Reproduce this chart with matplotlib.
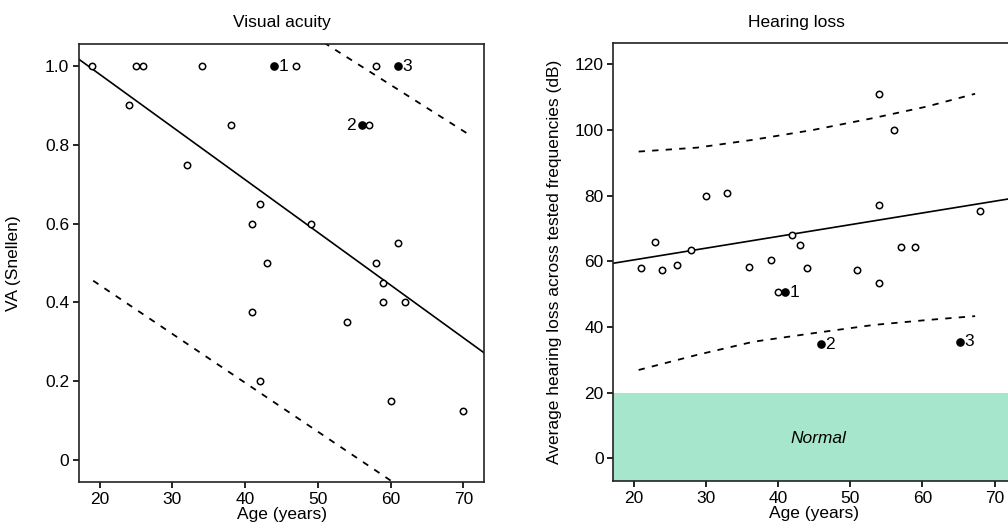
import matplotlib
matplotlib.use('Agg')
import matplotlib.pyplot as plt

plt.rcParams['font.family'] = ['Liberation Sans', 'DejaVu Sans']

# ===== Data: visual acuity =====
va_age = [19, 25, 26, 34, 47, 58, 24, 38, 57, 32, 42, 41, 49, 61, 43, 58,
          59, 59, 62, 41, 54, 42, 60, 70]
va_val = [1.0, 1.0, 1.0, 1.0, 1.0, 1.0, 0.9, 0.85, 0.85, 0.75, 0.65, 0.6, 0.6, 0.55, 0.5, 0.5,
          0.45, 0.4, 0.4, 0.375, 0.35, 0.2, 0.15, 0.125]
va_case_age = [44, 56, 61]
va_case_val = [1.0, 0.85, 1.0]
va_case_lab = ['1', '2', '3']
va_fit_age = [17.15, 72.85]
va_fit_val = [1.017, 0.272]
va_upper_age = [19, 70.7]
va_upper_val = [1.432, 0.827]
va_lower_age = [19.1, 70.7]
va_lower_val = [0.455, -0.185]

# ===== Data: hearing loss =====
hl_age = [54, 56, 30, 33, 54, 68, 23, 28, 42, 43, 57, 59, 39,
          21, 24, 26, 36, 44, 51, 54, 40]
hl_val = [111.0, 100.0, 80.0, 80.7, 77.2, 75.4, 66.0, 63.5, 67.9, 64.8, 64.2, 64.2, 60.5,
          57.9, 57.3, 58.8, 58.4, 57.9, 57.3, 53.3, 50.5]
hl_case_age = [41, 46, 65.2]
hl_case_val = [50.5, 34.8, 35.5]
hl_case_lab = ['1', '2', '3']
hl_fit_age = [17.2, 72.0]
hl_fit_val = [59.4, 79.0]
hl_band_age = [20.7, 28.8, 36.6, 44.9, 53.2, 60.6, 67.3]
hl_upper_val = [93.4, 94.6, 97.0, 100.0, 103.6, 107.1, 111.0]
hl_lower_val = [26.9, 31.5, 35.5, 38.1, 40.6, 42.1, 43.3]

fig = plt.figure(figsize=(10.08, 5.30), dpi=100)
ax1 = fig.add_axes([0.0784, 0.0906, 0.4018, 0.8264])
ax2 = fig.add_axes([0.6085, 0.0925, 0.399, 0.826])

fs = 12.5
open_kw = dict(marker='o', linestyle='none', markersize=4.6, markerfacecolor='white',
               markeredgecolor='black', markeredgewidth=1.1, zorder=4)
fill_kw = dict(marker='o', linestyle='none', markersize=5.2, color='black', zorder=4)


def style(ax):
    for s in ax.spines.values():
        s.set_linewidth(1.2)
        s.set_color('#222222')
    ax.tick_params(direction='out', length=4, width=1.2, labelsize=fs, pad=3,
                   top=False, right=False)


# ===== Panel 1: Visual acuity =====
ax1.plot(va_fit_age, va_fit_val, color='black', lw=1.2, zorder=2)
ax1.plot(va_upper_age, va_upper_val, color='black', lw=1.3, dashes=(3.5, 4), zorder=2)
ax1.plot(va_lower_age, va_lower_val, color='black', lw=1.3, dashes=(3.5, 4), zorder=2)
ax1.plot(va_age, va_val, **open_kw)
ax1.plot(va_case_age, va_case_val, **fill_kw)
for a, v, t in zip(va_case_age, va_case_val, va_case_lab):
    if t == '2':
        ax1.annotate(t, (a, v), xytext=(-4, 0), textcoords='offset points',
                     ha='right', va='center', fontsize=fs)
    else:
        ax1.annotate(t, (a, v), xytext=(3, 0), textcoords='offset points',
                     ha='left', va='center', fontsize=fs)
ax1.set_xlim(17.15, 72.85)
ax1.set_ylim(-0.056, 1.056)
ax1.set_xticks([20, 30, 40, 50, 60, 70])
ax1.set_yticks([0, 0.2, 0.4, 0.6, 0.8, 1.0])
ax1.set_yticklabels(['0', '0.2', '0.4', '0.6', '0.8', '1.0'])
ax1.set_xlabel('Age (years)', fontsize=fs, labelpad=0)
ax1.set_ylabel('VA (Snellen)', fontsize=fs)
ax1.yaxis.set_label_coords(-0.143, 0.5)
ax1.set_title('Visual acuity', fontsize=fs, pad=12)
style(ax1)

# ===== Panel 2: Hearing loss =====
ax2.axhspan(-20, 20, color='#a6e6cc', lw=0, zorder=0)
ax2.text(45.6, 6, 'Normal', style='italic', ha='center', va='center', fontsize=fs)
ax2.plot(hl_fit_age, hl_fit_val, color='black', lw=1.2, zorder=2)
ax2.plot(hl_band_age, hl_upper_val, color='black', lw=1.3, dashes=(3.5, 4), zorder=2)
ax2.plot(hl_band_age, hl_lower_val, color='black', lw=1.3, dashes=(3.5, 4), zorder=2)
ax2.plot(hl_age, hl_val, **open_kw)
ax2.plot(hl_case_age, hl_case_val, **fill_kw)
for a, v, t in zip(hl_case_age, hl_case_val, hl_case_lab):
    ax2.annotate(t, (a, v), xytext=(3, 0), textcoords='offset points',
                 ha='left', va='center', fontsize=fs)
ax2.set_xlim(17.2, 72.9)
ax2.set_ylim(-6.9, 126.4)
ax2.set_xticks([20, 30, 40, 50, 60, 70])
ax2.set_yticks([0, 20, 40, 60, 80, 100, 120])
ax2.set_xlabel('Age (years)', fontsize=fs, labelpad=0)
ax2.set_ylabel('Average hearing loss across tested frequencies (dB)', fontsize=fs)
ax2.yaxis.set_label_coords(-0.128, 0.5)
ax2.set_title('Hearing loss', fontsize=fs, pad=12, x=0.456)
style(ax2)

fig.savefig('out.png', dpi=100, facecolor='white')
